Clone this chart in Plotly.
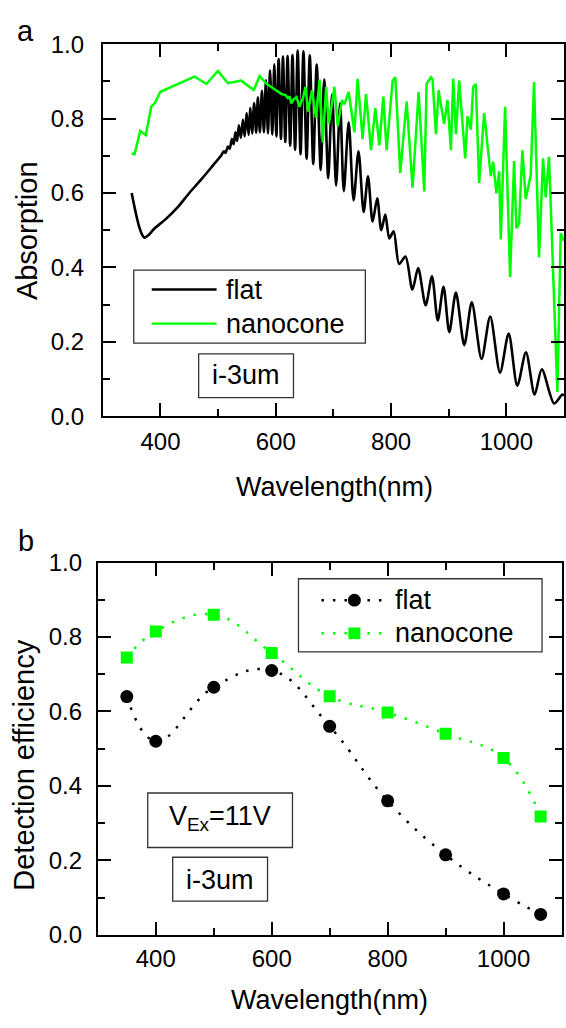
import plotly.graph_objects as go

# ---------------- data ----------------
# (a) absorption spectra, i-3um layer
flat_wl = [350, 356, 362, 367, 372, 380, 390, 400, 410, 430, 450, 470, 490, 505,
           510, 513, 517, 520, 524, 527, 530, 533, 536, 539.5, 543, 546, 549.5, 553,
           556, 559, 562.5, 566, 569, 572.5, 576, 579.5, 583, 586.5, 590, 594, 597.5,
           601, 605, 609, 612.5, 616.5, 620.5, 625, 629, 633.5, 638, 643, 648, 653.5,
           659, 665, 671, 678, 684, 691, 697.7, 704.7, 711.6, 718, 726.5, 735, 743.5,
           752.5, 760, 768, 776, 783, 790, 797, 804.5, 814, 825, 837, 847, 860, 871,
           881, 891, 901, 912.5, 927, 940, 957, 972, 989, 1004, 1019, 1034, 1049,
           1061.5, 1083, 1097, 1100]
flat_abs = [0.600, 0.555, 0.515, 0.492, 0.480, 0.488, 0.505, 0.518, 0.531, 0.562, 0.600,
            0.635, 0.672, 0.700, 0.712, 0.708, 0.725, 0.719, 0.745, 0.731, 0.763, 0.740,
            0.782, 0.748, 0.797, 0.752, 0.815, 0.756, 0.828, 0.760, 0.842, 0.762, 0.857,
            0.763, 0.875, 0.763, 0.903, 0.760, 0.930, 0.757, 0.946, 0.752, 0.960, 0.745,
            0.967, 0.737, 0.968, 0.727, 0.971, 0.716, 0.983, 0.704, 0.981, 0.692, 0.970,
            0.678, 0.945, 0.662, 0.905, 0.640, 0.865, 0.620, 0.841, 0.605, 0.790, 0.580,
            0.712, 0.549, 0.645, 0.523, 0.586, 0.500, 0.542, 0.478, 0.497, 0.409, 0.429,
            0.340, 0.398, 0.298, 0.376, 0.257, 0.348, 0.226, 0.332, 0.191, 0.306, 0.154,
            0.268, 0.117, 0.222, 0.082, 0.172, 0.058, 0.126, 0.034, 0.058, 0.055]

cone_wl = [350, 355, 365, 374.5, 384, 390, 400, 459, 479.6, 499.7, 517, 540, 562, 571.9,
           583.5, 600.8, 610, 617, 621, 624, 627, 631, 636, 641, 647, 651.5, 656, 663,
           670, 676, 681.5, 687.4, 692, 701.7, 707.5, 715, 719, 726.5, 736.4, 742, 750.7,
           756.6, 765.3, 772.7, 779.7, 786.6, 792.3, 802.7, 807.4, 816, 827, 837.3, 847.8,
           857.6, 861.6, 869.2, 872, 877.8, 882.4, 892.2, 897.9, 903.8, 907.8, 912.5,
           918.2, 928.6, 932.6, 938.4, 942.4, 947, 952.8, 961.5, 973, 977, 982.8, 987.5,
           990.4, 997.8, 1006.5, 1013.4, 1017.4, 1022, 1027.8, 1033.6, 1042.3, 1048,
           1056.7, 1063.6, 1068.3, 1074, 1088.5, 1094.3, 1100]
cone_abs = [0.706, 0.704, 0.767, 0.756, 0.832, 0.841, 0.872, 0.913, 0.893, 0.928, 0.895,
            0.902, 0.877, 0.914, 0.894, 0.876, 0.866, 0.863, 0.855, 0.860, 0.841, 0.852,
            0.858, 0.832, 0.854, 0.885, 0.819, 0.876, 0.802, 0.905, 0.736, 0.885, 0.785,
            0.885, 0.780, 0.850, 0.838, 0.872, 0.763, 0.907, 0.745, 0.866, 0.715, 0.828,
            0.728, 0.859, 0.715, 0.902, 0.911, 0.654, 0.846, 0.614, 0.872, 0.604, 0.893,
            0.911, 0.905, 0.758, 0.876, 0.785, 0.850, 0.715, 0.907, 0.758, 0.902, 0.693,
            0.806, 0.770, 0.885, 0.893, 0.627, 0.815, 0.645, 0.684, 0.599, 0.658, 0.475,
            0.832, 0.374, 0.686, 0.505, 0.518, 0.715, 0.584, 0.649, 0.898, 0.427, 0.693,
            0.588, 0.697, 0.065, 0.492, 0.471]

# (b) detection efficiency at V_Ex = 11 V
de_wl = [350, 400, 500, 600, 700, 800, 900, 1000, 1064]
de_flat = [0.640, 0.520, 0.665, 0.710, 0.560, 0.360, 0.215, 0.110, 0.055]
de_cone = [0.745, 0.815, 0.860, 0.757, 0.641, 0.597, 0.540, 0.475, 0.318]

x_ticks = [400, 600, 800, 1000]
y_ticks = [0.0, 0.2, 0.4, 0.6, 0.8, 1.0]

# ---------------- figure ----------------
W, H = 566, 1028
FONT = "Liberation Sans, Arial, sans-serif"
GREEN = "#00ff00"
DOT = "2.5px,9px"


def px(x):
    return x / W


def py(y):
    return 1 - y / H


fig = go.Figure()

fig.add_trace(go.Scatter(x=flat_wl, y=flat_abs, mode="lines", name="flat",
                         line=dict(color="black", width=2.6, shape="spline", smoothing=0.8),
                         xaxis="x", yaxis="y"))
fig.add_trace(go.Scatter(x=cone_wl, y=cone_abs, mode="lines", name="nanocone",
                         line=dict(color=GREEN, width=2.5),
                         xaxis="x", yaxis="y"))

fig.add_trace(go.Scatter(x=de_wl, y=de_flat, mode="lines+markers", name="flat",
                         line=dict(color="black", width=2.5, dash=DOT,
                                   shape="spline", smoothing=1.2),
                         marker=dict(symbol="circle", size=13, color="black"),
                         xaxis="x2", yaxis="y2"))
fig.add_trace(go.Scatter(x=de_wl, y=de_cone, mode="lines+markers", name="nanocone",
                         line=dict(color=GREEN, width=2.5, dash=DOT,
                                   shape="spline", smoothing=1.2),
                         marker=dict(symbol="square", size=12, color=GREEN),
                         xaxis="x2", yaxis="y2"))

tickfont = dict(family=FONT, size=24, color="black")


def xaxis(domain, anchor, standoff):
    return dict(domain=domain, anchor=anchor, range=[300, 1100],
                tickmode="array", tickvals=x_ticks, ticktext=[str(v) for v in x_ticks],
                ticks="inside", ticklen=13, tickwidth=2, tickcolor="black",
                minor=dict(tickmode="array", tickvals=[500, 700, 900], ticks="inside",
                           ticklen=7, tickwidth=2, tickcolor="black"),
                showline=True, linewidth=2, linecolor="black", mirror="ticks",
                showgrid=False, zeroline=False, tickfont=tickfont,
                ticklabelstandoff=standoff)


def yaxis(domain, anchor, standoff):
    return dict(domain=domain, anchor=anchor, range=[0, 1.0],
                tickmode="array", tickvals=y_ticks, ticktext=[f"{v:.1f}" for v in y_ticks],
                ticks="inside", ticklen=13, tickwidth=2, tickcolor="black",
                minor=dict(tickmode="array", tickvals=[0.1, 0.3, 0.5, 0.7, 0.9],
                           ticks="inside", ticklen=7, tickwidth=2, tickcolor="black"),
                showline=True, linewidth=2, linecolor="black", mirror="ticks",
                showgrid=False, zeroline=False, tickfont=tickfont,
                ticklabelstandoff=standoff)


annotations = []
shapes = []


def text(x, y, s, size=27, xanchor="center", angle=0):
    annotations.append(dict(x=px(x), y=py(y), xref="paper", yref="paper", text=s,
                            showarrow=False, xanchor=xanchor, yanchor="middle",
                            textangle=angle,
                            font=dict(family=FONT, size=size, color="black")))


def box(x0, y0, x1, y1):
    shapes.append(dict(type="rect", xref="paper", yref="paper",
                       x0=px(x0), x1=px(x1), y0=py(y1), y1=py(y0),
                       line=dict(color="#333333", width=1.3), fillcolor="rgba(0,0,0,0)"))


def seg(x0, x1, y, color, width, dash="solid"):
    shapes.append(dict(type="line", xref="paper", yref="paper",
                       x0=px(x0), x1=px(x1), y0=py(y), y1=py(y),
                       line=dict(color=color, width=width, dash=dash)))


# panel letters
text(26, 17.5, "a", size=29)
text(26, 541, "b", size=29)

# axis titles
text(335, 486, "Wavelength(nm)")
text(330, 1013, "Wavelength(nm)")
text(27, 222, "Absorption", size=29, angle=-90)
text(24, 771, "Detection efficiency", size=29, angle=-90)

# legend of (a)
box(134, 263, 366, 338)
seg(152, 217, 283, "black", 2.4)
seg(152, 217, 318, GREEN, 2.4)
text(224, 283, "flat", xanchor="left")
text(224, 318, "nanocone", xanchor="left")

# sample label of (a)
box(199, 349, 294, 394)
text(246.5, 371, "i-3um")

# legend of (b)
box(299, 580, 543, 655)
seg(322, 384, 602, "black", 2.5, DOT)
seg(322, 384, 636, GREEN, 2.5, DOT)
shapes.append(dict(type="circle", xref="paper", yref="paper",
                   x0=px(355 - 6.5), x1=px(355 + 6.5), y0=py(602 + 6.5), y1=py(602 - 6.5),
                   fillcolor="black", line=dict(width=0)))
shapes.append(dict(type="rect", xref="paper", yref="paper",
                   x0=px(355 - 6), x1=px(355 + 6), y0=py(636 + 6), y1=py(636 - 6),
                   fillcolor=GREEN, line=dict(width=0)))
text(394, 602, "flat", xanchor="left")
text(394, 636, "nanocone", xanchor="left")

# bias and sample labels of (b)
box(148, 800, 293, 856)
text(220, 826, "V<sub>Ex</sub>=11V")
box(173, 866, 268, 911)
text(220.5, 889, "i-3um")

fig.update_layout(
    width=W, height=H,
    margin=dict(l=0, r=0, t=0, b=0),
    paper_bgcolor="white", plot_bgcolor="white",
    showlegend=False,
    font=dict(family=FONT, color="black"),
    xaxis=xaxis([px(103), px(565)], "y", 3),
    yaxis=yaxis([py(413), py(31)], "x", 12),
    xaxis2=xaxis([px(98), px(562.5)], "y2", 1),
    yaxis2=yaxis([py(945.7), py(563.3)], "x2", 9),
    annotations=annotations,
    shapes=shapes,
)

fig.write_html("out.html")
